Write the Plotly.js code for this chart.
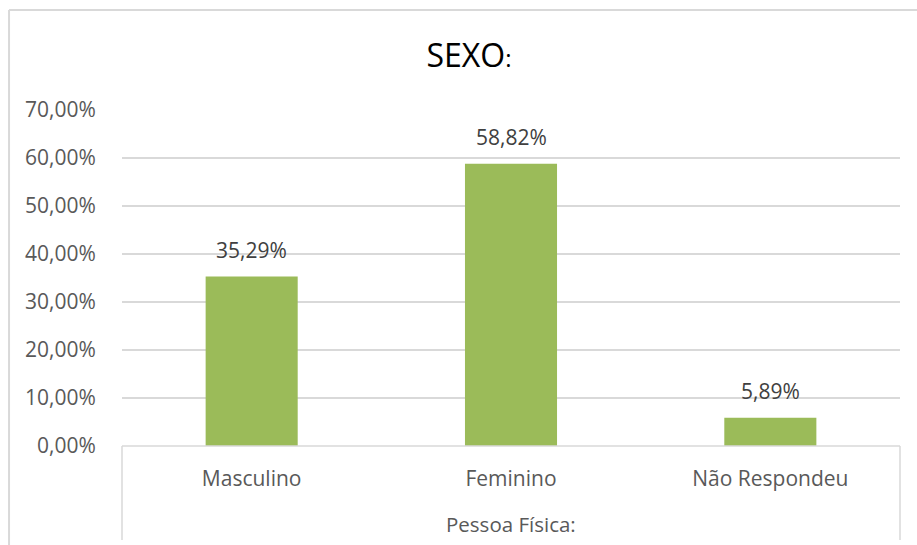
<!DOCTYPE html>
<html>
<head>
<meta charset="utf-8">
<script src="https://cdn.plot.ly/plotly-3.0.1.min.js"></script>
<style>
  html, body { margin: 0; padding: 0; background: #ffffff; }
  #chart { width: 917px; height: 545px; }
</style>
</head>
<body>
<div id="chart"></div>
<script>
const categories = ["Masculino", "Feminino", "Não Respondeu"];
const values = [35.29, 58.82, 5.89];
const valueLabels = ["35,29%", "58,82%", "5,89%"];
const tickValues = [0, 10, 20, 30, 40, 50, 60, 70];
const tickLabels = ["0,00%", "10,00%", "20,00%", "30,00%", "40,00%", "50,00%", "60,00%", "70,00%"];
const groupLabel = "Pessoa Física:";
const titleMain = "SEXO";
const titleSuffix = ":";

const FONT = "Open Sans, Noto Sans, sans-serif";
const grid = "#d9d9d9";

const trace = {
  type: "bar",
  x: categories,
  y: values,
  marker: { color: "#9bbb59" },
  hoverinfo: "skip"
};

const annotations = categories.map((c, i) => ({
  x: c, y: values[i], xref: "x", yref: "y",
  text: valueLabels[i], showarrow: false,
  yanchor: "bottom", yshift: 11,
  font: { family: FONT, size: 21, color: "#404040" }
}));
annotations.push({
  x: 0.5, y: -0.232, xref: "paper", yref: "paper",
  text: groupLabel, showarrow: false,
  xanchor: "center", yanchor: "middle",
  font: { family: FONT, size: 20.5, color: "#595959" }
});

const layout = {
  width: 917, height: 545,
  margin: { l: 122, r: 17, t: 110, b: 99, pad: 0 },
  paper_bgcolor: "#ffffff",
  plot_bgcolor: "#ffffff",
  showlegend: false,
  bargap: 0.645,
  title: {
    text: titleMain + "<span style='font-size:24px'>" + titleSuffix + "</span>",
    x: 0.446, xanchor: "center", xref: "paper",
    y: 1 - 56 / 545, yanchor: "middle", yref: "container",
    font: { family: FONT, size: 32, color: "#000000" }
  },
  xaxis: {
    type: "category",
    showgrid: false,
    zeroline: false,
    showline: false,
    ticks: "outside", ticklen: 14, tickcolor: "rgba(0,0,0,0)",
    tickfont: { family: FONT, size: 21, color: "#595959" },
    fixedrange: true
  },
  yaxis: {
    range: [0, 70],
    tickvals: tickValues,
    ticktext: tickLabels,
    showgrid: true, gridcolor: grid, gridwidth: 1.5,
    zeroline: false,
    showline: false,
    ticks: "outside", ticklen: 21, tickcolor: "rgba(0,0,0,0)",
    tickfont: { family: FONT, size: 21, color: "#595959" },
    fixedrange: true
  },
  annotations: annotations,
  shapes: [
    { type: "line", xref: "paper", yref: "paper", x0: 0, x1: 1, y0: 0, y1: 0,
      line: { color: grid, width: 1.5 } },
    { type: "line", xref: "paper", yref: "paper", x0: 0, x1: 0, y0: 0, y1: -0.28,
      line: { color: grid, width: 1.5 } },
    { type: "line", xref: "paper", yref: "paper", x0: 1, x1: 1, y0: 0, y1: -0.28,
      line: { color: grid, width: 1.5 } },
    { type: "line", xref: "paper", yref: "paper", x0: -0.1452, x1: -0.1452, y0: -0.4, y1: 1.2976,
      line: { color: grid, width: 2 } },
    { type: "line", xref: "paper", yref: "paper", x0: -0.1452, x1: 1.1, y0: 1.2976, y1: 1.2976,
      line: { color: grid, width: 2 } }
  ]
};

Plotly.newPlot("chart", [trace], layout, { displayModeBar: false, staticPlot: true });
</script>
</body>
</html>
